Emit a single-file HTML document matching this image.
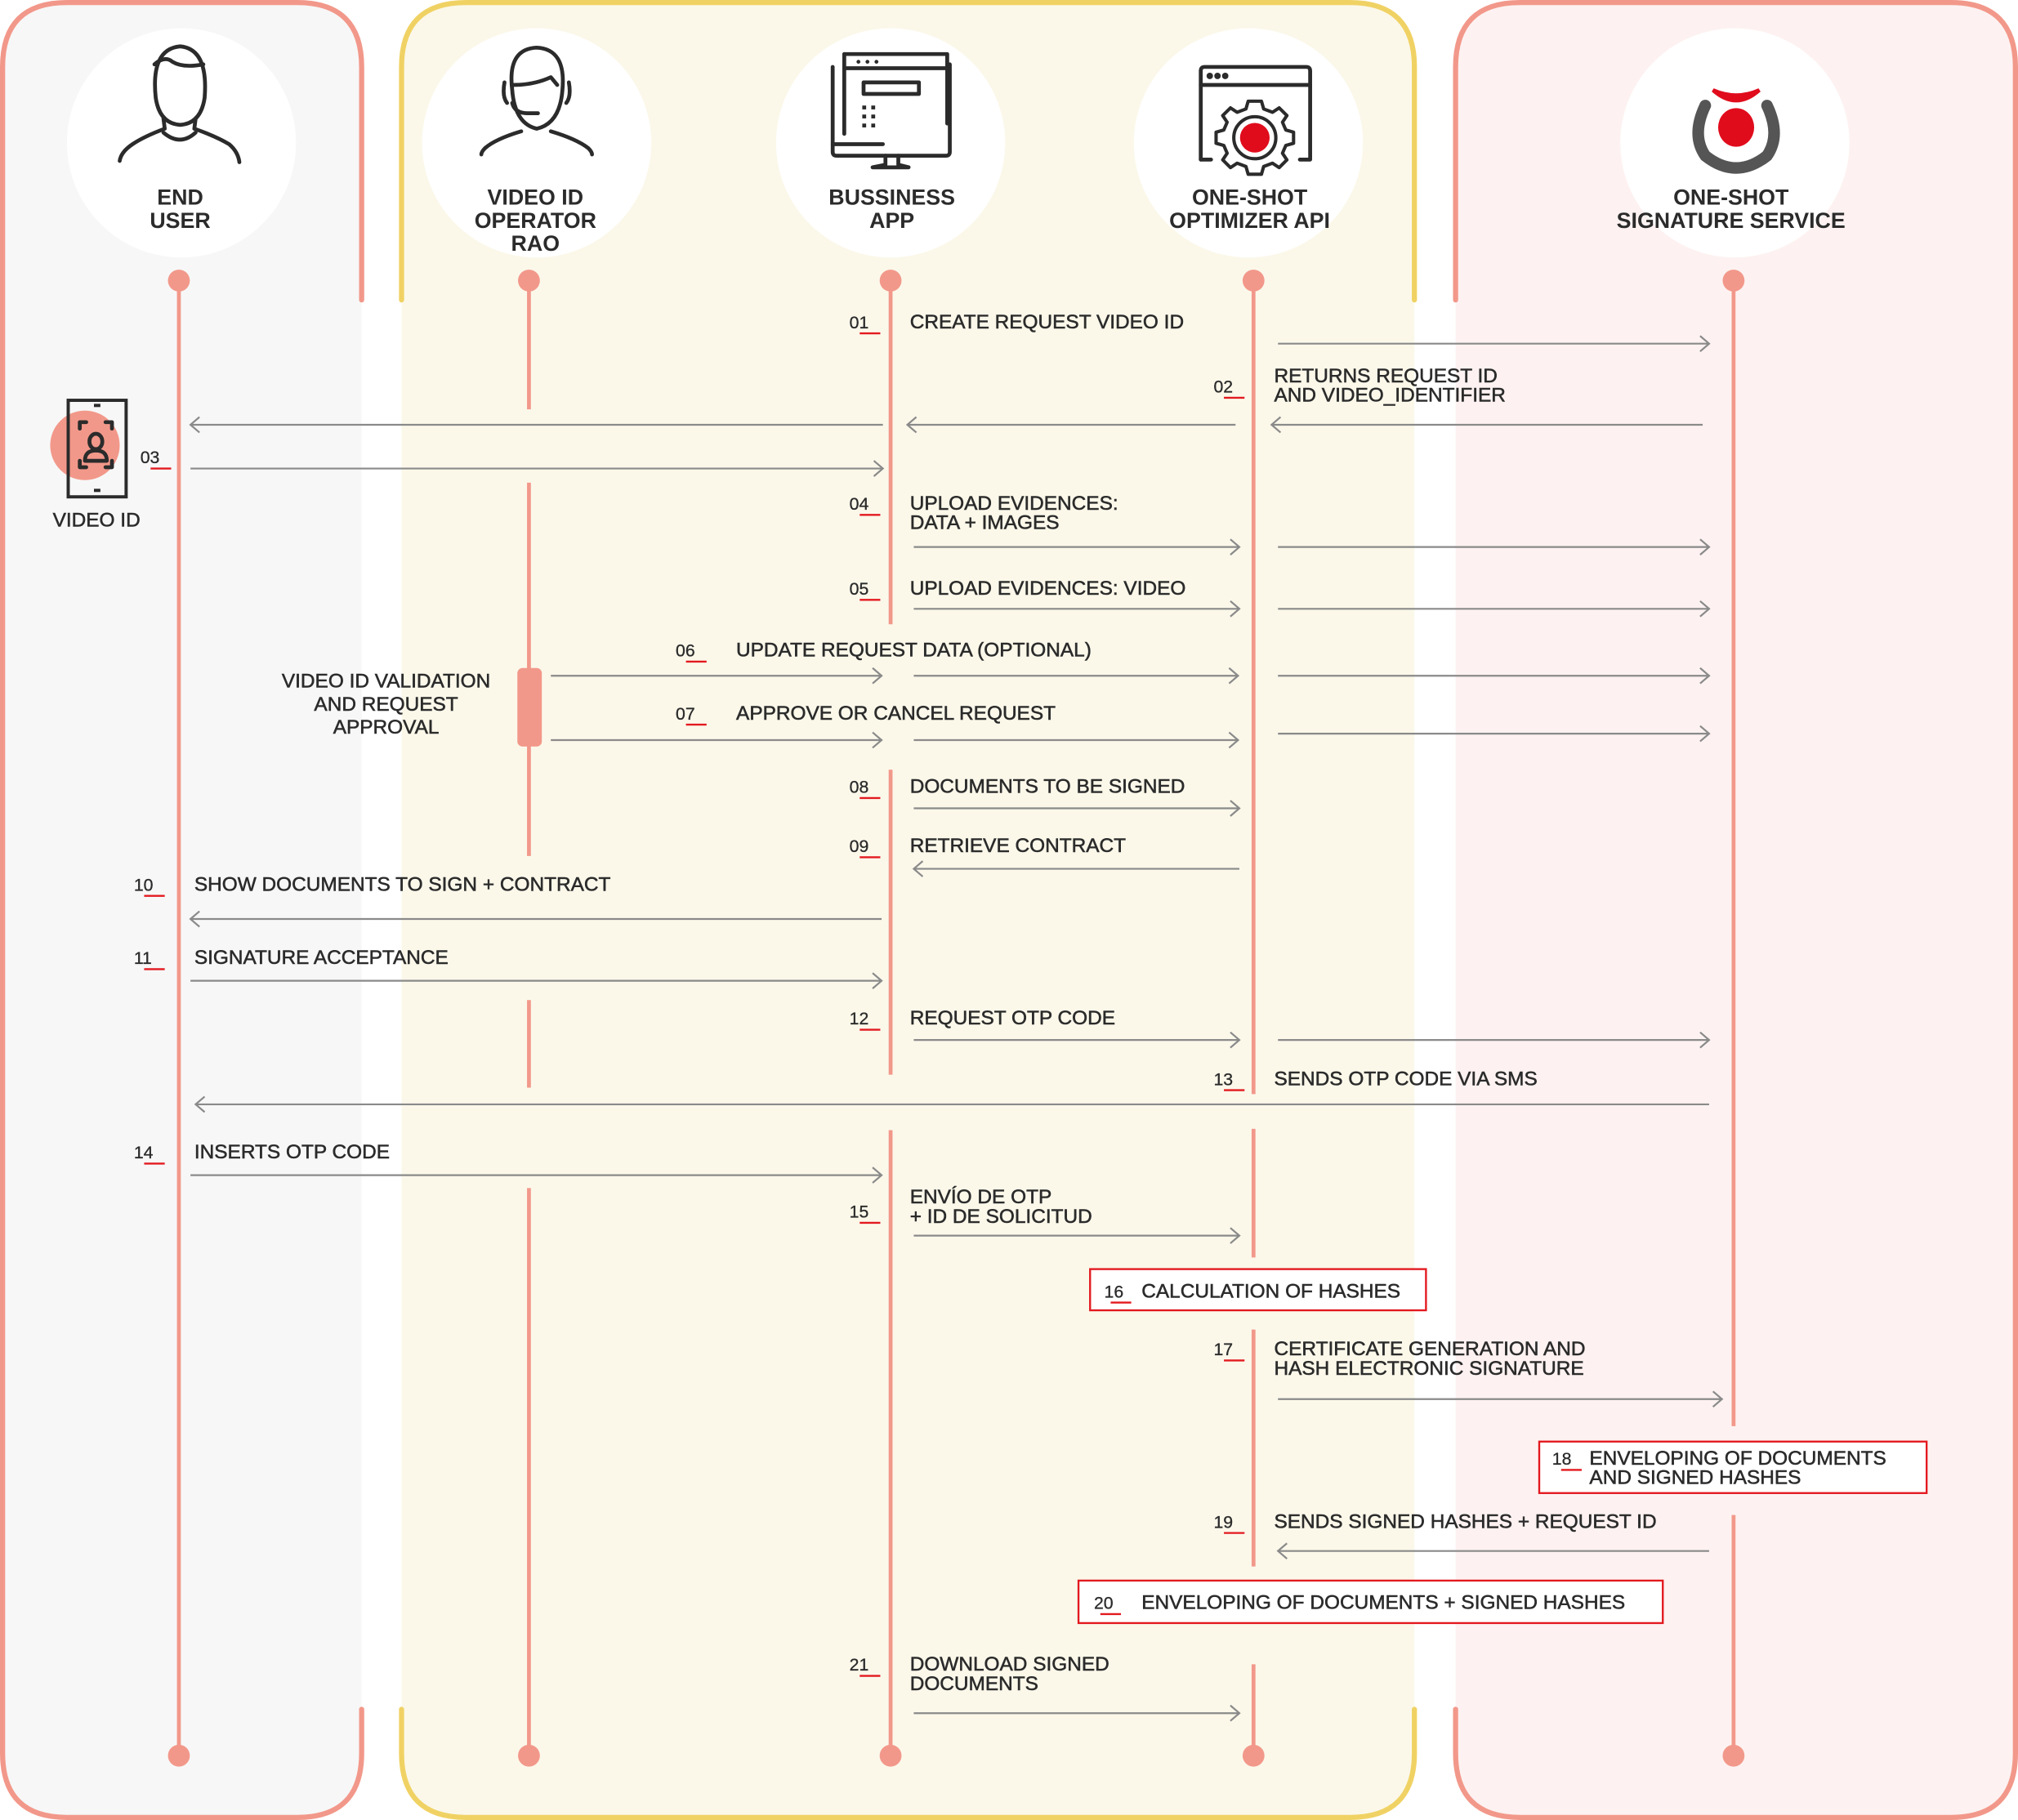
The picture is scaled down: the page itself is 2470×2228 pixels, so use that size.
<!DOCTYPE html>
<html><head><meta charset="utf-8">
<style>
html,body{margin:0;padding:0;background:#fff;}
svg{display:block;}
text{font-family:"Liberation Sans",sans-serif;fill:#2b2b2b;}
.t{font-size:15.5px;stroke:#2b2b2b;stroke-width:0.35;}
.n{font-size:13.5px;stroke:#2b2b2b;stroke-width:0.2;}
.h{font-size:17px;font-weight:bold;text-anchor:middle;}
.ar{stroke:#8a8a8a;stroke-width:1.4;fill:none;}
.ll{stroke:#f2988a;stroke-width:3;}
.ul{stroke:#e3191f;stroke-width:1.5;}
.ic{stroke:#2b2b2b;stroke-width:3;fill:none;stroke-linecap:round;stroke-linejoin:round;}
</style></head>
<body>
<svg width="2470" height="2228" viewBox="0 0 1568 1414" preserveAspectRatio="none" xmlns="http://www.w3.org/2000/svg">
<path d="M2,52 Q2,2 52,2 L231,2 Q281,2 281,52 L281,1362 Q281,1412 231,1412 L52,1412 Q2,1412 2,1362 Z" fill="#f7f7f7"/>
<path d="M312,52 Q312,2 362,2 L1049,2 Q1099,2 1099,52 L1099,1362 Q1099,1412 1049,1412 L362,1412 Q312,1412 312,1362 Z" fill="#fbf8ea"/>
<path d="M1131,52 Q1131,2 1181,2 L1516,2 Q1566,2 1566,52 L1566,1362 Q1566,1412 1516,1412 L1181,1412 Q1131,1412 1131,1362 Z" fill="#fdf2f1"/>
<g fill="none" stroke-width="4" stroke-linecap="round">
<path d="M281,233 L281,52 Q281,2 231,2 L52,2 Q2,2 2,52 L2,1362 Q2,1412 52,1412 L231,1412 Q281,1412 281,1362 L281,1328" stroke="#f2988a"/>
<path d="M312,233 L312,52 Q312,2 362,2 L1049,2 Q1099,2 1099,52 L1099,233" stroke="#f0d264"/>
<path d="M312,1328 L312,1362 Q312,1412 362,1412 L1049,1412 Q1099,1412 1099,1362 L1099,1328" stroke="#f0d264"/>
<path d="M1131,233 L1131,52 Q1131,2 1181,2 L1516,2 Q1566,2 1566,52 L1566,1362 Q1566,1412 1516,1412 L1181,1412 Q1131,1412 1131,1362 L1131,1328" stroke="#f2988a"/>
</g>
<g fill="#fff">
<ellipse cx="141" cy="111" rx="89" ry="89"/>
<ellipse cx="417" cy="111" rx="89" ry="89"/>
<ellipse cx="692" cy="111" rx="89" ry="89"/>
<ellipse cx="970" cy="111" rx="89" ry="89"/>
<ellipse cx="1348" cy="111" rx="89" ry="89"/>
</g>
<g class="ic">
<path d="M121,76 Q117,38 140,36 Q162,38 159,76 Q156,96 140,97 Q124,96 121,76 Z"/>
<path d="M120,50 Q128,43 134,48 Q142,53 158,50"/>
<path d="M127,92 L128,100 Q112,106 103,112 Q94,118 93,125"/>
<path d="M152,92 L151,100 Q168,106 178,112 Q185,118 186,126"/>
<path d="M127,103 Q140,114 152,103"/>
<path d="M398,70 Q394,38 417,37 Q440,38 437,70 Q435,96 417,100 Q400,96 398,70 Z"/>
<path d="M399,66 Q415,66 428,60 L433,66"/>
<path d="M392,64 Q390,75 394,80 M442,64 Q444,75 440,80"/>
<path d="M398,80 Q400,88 410,88 L418,88"/>
<path d="M405,102 Q385,108 377,115 Q374,118 374,120 M428,102 Q448,108 457,115 Q460,118 460,120"/>
<path d="M656,42 L736,42 L736,96"/><path d="M656,42 L656,104"/>
<path d="M656,53 L736,53"/>
<path d="M647,52 L647,118 Q647,121 650,121 L735,121 Q738,121 738,118 L738,50"/>
<path d="M671,64 L714,64 L714,73 L671,73 Z"/>
<path d="M647,112 L686,112"/>
<path d="M688,121 L688,128 L678,130 L706,130 L698,128 L698,121"/>
<path d="M933,124 L933,55 Q933,52 936,52 L1015,52 Q1018,52 1018,55 L1018,124 L1010,124"/>
<path d="M933,124 L941,124"/>
<path d="M933,66 L1018,66"/>
<g transform="translate(975,107) scale(0.86) translate(-974,-115)">
<path d="M968,82 L980,82 L982,89 L990,92 L996,88 L1003,95 L999,101 L1002,108 L1009,110 L1009,120 L1002,122 L999,129 L1003,135 L996,142 L990,138 L982,141 L980,148 L968,148 L966,141 L958,138 L952,142 L945,135 L949,129 L946,122 L939,120 L939,110 L946,108 L949,101 L945,95 L952,88 L958,92 L966,89 Z"/>
<circle cx="974" cy="115" r="19"/>
</g>
</g>
<g fill="#2b2b2b"><circle cx="940" cy="59" r="2.5"/><circle cx="946" cy="59" r="2.5"/><circle cx="952" cy="59" r="2.5"/>
<circle cx="667" cy="48" r="1.5"/><circle cx="674" cy="48" r="1.5"/><circle cx="681" cy="48" r="1.5"/>
<rect x="670" y="82" width="3" height="3"/><rect x="677" y="82" width="3" height="3"/><rect x="670" y="89" width="3" height="3"/><rect x="677" y="89" width="3" height="3"/><rect x="670" y="96" width="3" height="3"/><rect x="677" y="96" width="3" height="3"/>
</g>
<circle cx="975" cy="107" r="11.5" fill="#e00c1c"/>
<path d="M1325,82 Q1314,105 1325,121 Q1349,140 1373,121 Q1384,105 1373,82" fill="none" stroke="#555" stroke-width="9" stroke-linecap="round"/>
<path d="M1331,70 Q1349,86 1367,70 Q1349,78 1331,70 Z" fill="#e00c1c" stroke="#e00c1c" stroke-width="3"/>
<ellipse cx="1349" cy="99" rx="14" ry="15" fill="#e00c1c"/>
<text class="h" x="140" y="159">END</text><text class="h" x="140" y="177">USER</text>
<text class="h" x="416" y="159">VIDEO ID</text><text class="h" x="416" y="177">OPERATOR</text><text class="h" x="416" y="195">RAO</text>
<text class="h" x="693" y="159">BUSSINESS</text><text class="h" x="693" y="177">APP</text>
<text class="h" x="971" y="159">ONE-SHOT</text><text class="h" x="971" y="177">OPTIMIZER API</text>
<text class="h" x="1345" y="159">ONE-SHOT</text><text class="h" x="1345" y="177">SIGNATURE SERVICE</text>
<g class="ll">
<line x1="139" y1="218" x2="139" y2="1364"/>
<line x1="411" y1="218" x2="411" y2="318"/><line x1="411" y1="375" x2="411" y2="665"/><line x1="411" y1="777" x2="411" y2="845"/><line x1="411" y1="923" x2="411" y2="1364"/>
<line x1="692" y1="218" x2="692" y2="485"/><line x1="692" y1="598" x2="692" y2="835"/><line x1="692" y1="878" x2="692" y2="1364"/>
<line x1="974" y1="218" x2="974" y2="850"/><line x1="974" y1="877" x2="974" y2="977"/><line x1="974" y1="1033" x2="974" y2="1217"/><line x1="974" y1="1293" x2="974" y2="1364"/>
<line x1="1347" y1="218" x2="1347" y2="1108"/><line x1="1347" y1="1177" x2="1347" y2="1364"/>
</g>
<g fill="#f2988a">
<circle cx="139" cy="218" r="8.5"/><circle cx="411" cy="218" r="8.5"/><circle cx="692" cy="218" r="8.5"/><circle cx="974" cy="218" r="8.5"/><circle cx="1347" cy="218" r="8.5"/>
<circle cx="139" cy="1364" r="8.5"/><circle cx="411" cy="1364" r="8.5"/><circle cx="692" cy="1364" r="8.5"/><circle cx="974" cy="1364" r="8.5"/><circle cx="1347" cy="1364" r="8.5"/>
<rect x="402" y="519" width="19" height="61" rx="4"/>
</g>
<circle cx="66" cy="346" r="27" fill="#f2988a"/>
<rect x="53" y="311" width="45" height="75" fill="none" stroke="#2b2b2b" stroke-width="2.5"/>
<line x1="73" y1="315" x2="78" y2="315" stroke="#2b2b2b" stroke-width="2.5"/><line x1="73" y1="381" x2="78" y2="381" stroke="#2b2b2b" stroke-width="2.5"/>
<g class="ic" stroke-width="2"><path d="M62,333 L62,328 L67,328 M82,328 L87,328 L87,333 M62,358 L62,363 L67,363 M82,363 L87,363 L87,358"/>
<ellipse cx="74.5" cy="343" rx="5" ry="6"/><path d="M66,358 Q66,350 74.5,350 Q83,350 83,358 Z"/></g>
<text class="t" x="75" y="409" text-anchor="middle">VIDEO ID</text>
<g class="ar">
<path d="M993,267 L1328,267 M1321,261 L1328,267 L1321,273"/>
<path d="M1323,330 L988,330 M995,324 L988,330 L995,336"/>
<path d="M960,330 L705,330 M712,324 L705,330 L712,336"/>
<path d="M686,330 L148,330 M155,324 L148,330 L155,336"/>
<path d="M148,364 L686,364 M679,358 L686,364 L679,370"/>
<path d="M710,425 L963,425 M956,419 L963,425 L956,431"/>
<path d="M993,425 L1328,425 M1321,419 L1328,425 L1321,431"/>
<path d="M710,473 L963,473 M956,467 L963,473 L956,479"/>
<path d="M993,473 L1328,473 M1321,467 L1328,473 L1321,479"/>
<path d="M428,525 L685,525 M678,519 L685,525 L678,531"/>
<path d="M710,525 L962,525 M955,519 L962,525 L955,531"/>
<path d="M993,525 L1328,525 M1321,519 L1328,525 L1321,531"/>
<path d="M428,575 L685,575 M678,569 L685,575 L678,581"/>
<path d="M710,575 L962,575 M955,569 L962,575 L955,581"/>
<path d="M993,570 L1328,570 M1321,564 L1328,570 L1321,576"/>
<path d="M710,628 L963,628 M956,622 L963,628 L956,634"/>
<path d="M963,675 L710,675 M717,669 L710,675 L717,681"/>
<path d="M685,714 L148,714 M155,708 L148,714 L155,720"/>
<path d="M148,762 L685,762 M678,756 L685,762 L678,768"/>
<path d="M710,808 L963,808 M956,802 L963,808 L956,814"/>
<path d="M993,808 L1328,808 M1321,802 L1328,808 L1321,814"/>
<path d="M1328,858 L152,858 M159,852 L152,858 L159,864"/>
<path d="M148,913 L685,913 M678,907 L685,913 L678,919"/>
<path d="M710,960 L963,960 M956,954 L963,960 L956,966"/>
<path d="M993,1087 L1338,1087 M1331,1081 L1338,1087 L1331,1093"/>
<path d="M1328,1205 L993,1205 M1000,1199 L993,1205 L1000,1211"/>
<path d="M710,1331 L963,1331 M956,1325 L963,1331 L956,1337"/>
</g>
<g fill="#fff" stroke="#e3191f" stroke-width="1.5">
<rect x="847" y="986" width="261" height="32"/>
<rect x="1196" y="1120" width="301" height="40"/>
<rect x="838" y="1228" width="454" height="33"/>
</g>
<g class="n">
<text x="660" y="255">01</text><text x="943" y="305">02</text><text x="109" y="360">03</text>
<text x="660" y="396">04</text><text x="660" y="462">05</text><text x="525" y="510">06</text>
<text x="525" y="559">07</text><text x="660" y="616">08</text><text x="660" y="662">09</text>
<text x="104" y="692">10</text><text x="104" y="749">11</text><text x="660" y="796">12</text>
<text x="943" y="843">13</text><text x="104" y="900">14</text><text x="660" y="946">15</text>
<text x="858" y="1008">16</text><text x="943" y="1053">17</text><text x="1206" y="1138">18</text>
<text x="943" y="1187">19</text><text x="850" y="1250">20</text><text x="660" y="1298">21</text>
</g>
<g class="ul">
<path d="M668,259 h16 M951,309 h16 M117,364 h16 M668,400 h16 M668,466 h16 M533,514 h16 M533,563 h16 M668,620 h16 M668,666 h16 M112,696 h16 M112,753 h16 M668,800 h16 M951,847 h16 M112,904 h16 M668,950 h16 M863,1012 h16 M951,1057 h16 M1213,1142 h16 M951,1191 h16 M855,1254 h16 M668,1302 h16"/>
</g>
<g class="t">
<text x="707" y="255">CREATE REQUEST VIDEO ID</text>
<text x="990" y="297">RETURNS REQUEST ID</text><text x="990" y="312">AND VIDEO_IDENTIFIER</text>
<text x="707" y="396">UPLOAD EVIDENCES:</text><text x="707" y="411">DATA + IMAGES</text>
<text x="707" y="462">UPLOAD EVIDENCES: VIDEO</text>
<text x="572" y="510">UPDATE REQUEST DATA (OPTIONAL)</text>
<text x="572" y="559">APPROVE OR CANCEL REQUEST</text>
<text x="300" y="534" text-anchor="middle">VIDEO ID VALIDATION</text>
<text x="300" y="552" text-anchor="middle">AND REQUEST</text>
<text x="300" y="570" text-anchor="middle">APPROVAL</text>
<text x="707" y="616">DOCUMENTS TO BE SIGNED</text>
<text x="707" y="662">RETRIEVE CONTRACT</text>
<text x="151" y="692">SHOW DOCUMENTS TO SIGN + CONTRACT</text>
<text x="151" y="749">SIGNATURE ACCEPTANCE</text>
<text x="707" y="796">REQUEST OTP CODE</text>
<text x="990" y="843">SENDS OTP CODE VIA SMS</text>
<text x="151" y="900">INSERTS OTP CODE</text>
<text x="707" y="935">ENVÍO DE OTP</text><text x="707" y="950">+ ID DE SOLICITUD</text>
<text x="887" y="1008">CALCULATION OF HASHES</text>
<text x="990" y="1053">CERTIFICATE GENERATION AND</text><text x="990" y="1068">HASH ELECTRONIC SIGNATURE</text>
<text x="1235" y="1138">ENVELOPING OF DOCUMENTS</text><text x="1235" y="1153">AND SIGNED HASHES</text>
<text x="990" y="1187">SENDS SIGNED HASHES + REQUEST ID</text>
<text x="887" y="1250">ENVELOPING OF DOCUMENTS + SIGNED HASHES</text>
<text x="707" y="1298">DOWNLOAD SIGNED</text><text x="707" y="1313">DOCUMENTS</text>
</g>
</svg>
</body></html>
